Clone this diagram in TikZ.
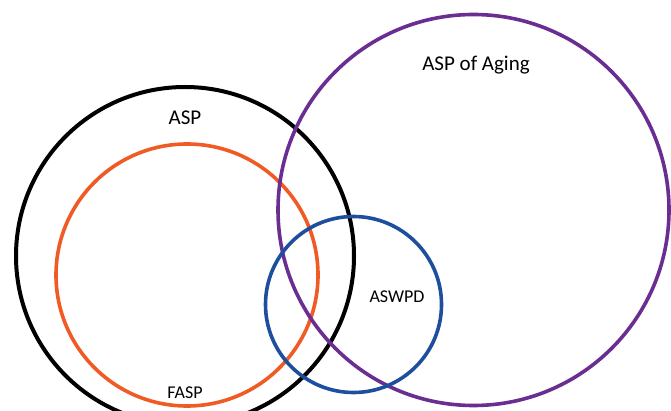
\documentclass[tikz,border=0pt]{standalone}
\usepackage{fontspec}
\setmainfont{Carlito}
\definecolor{aspblack}{RGB}{0,0,0}
\definecolor{faspor}{RGB}{240,90,36}
\definecolor{agingpurple}{RGB}{106,46,146}
\definecolor{aswpdblue}{RGB}{30,78,158}
\tikzset{
  ring/.style={draw, circle, line width=3.6pt, inner sep=0pt, minimum size=#1},
  biglabel/.style={font=\fontsize{21}{24}\selectfont},
  smalllabel/.style={font=\fontsize{18}{21}\selectfont}
}
\begin{document}
\begin{tikzpicture}[x=1pt, y=-1pt]
        \useasboundingbox (0, 0) rectangle (671, 411);

        % The four sets
        \node[ring=338pt, aspblack, line width=4pt] (asp) at (185, 256) {};
        \node[ring=262pt, faspor] (fasp) at (187, 275) {};
        \node[ring=391pt, agingpurple] (aging) at (473.5, 210) {};
        \node[ring=176pt, aswpdblue] (aswpd) at (353.5, 304.5) {};

        % Set names
        \node[biglabel] (asplabel) at (185, 118) {ASP};
        \node[biglabel] (aginglabel) at (476, 65) {ASP of Aging};
        \node[smalllabel] (aswpdlabel) at (397, 297) {ASWPD};
        \node[smalllabel] (fasplabel) at (185, 393) {FASP};
    \end{tikzpicture}
\end{document}
